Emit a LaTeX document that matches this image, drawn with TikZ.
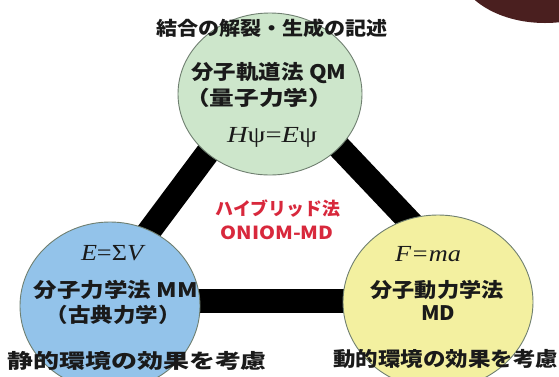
\documentclass[tikz,border=0pt]{standalone}
\usepackage{fontspec}
\usepackage{graphicx}
\usetikzlibrary{shapes.geometric}
\newfontfamily\jp{Noto Sans CJK JP}
\newfontfamily\tms{Liberation Serif}
\newcommand\fitw[2]{\resizebox{#1}{\height}{#2}}
\definecolor{qmfill}{HTML}{CDE6CB}
\definecolor{mmfill}{HTML}{93C3EA}
\definecolor{mdfill}{HTML}{F3F0A0}
\definecolor{blobline}{HTML}{6F7F70}
\definecolor{inkc}{HTML}{1A1A1A}
\definecolor{redc}{HTML}{D8283C}
\definecolor{maroonc}{HTML}{4A1F1F}
\begin{document}
\begin{tikzpicture}[x=1pt,y=-1pt,
  blob/.style={ellipse, draw=blobline, line width=0.9pt, inner sep=0pt},
  bar/.style={line width=24pt, black},
  jt/.style={inner sep=0pt, text=inkc, font={\jp\bfseries\fontsize{#1}{#1}\selectfont}},
  rt/.style={inner sep=0pt, text=redc, font={\jp\bfseries\fontsize{#1}{#1}\selectfont}},
  mt/.style={inner sep=0pt, text=inkc, font={\tms\fontsize{#1}{#1}\selectfont}}]
\useasboundingbox (0,0) rectangle (559,376);
\clip (0,0) rectangle (559,376);
\node[ellipse, fill=maroonc, minimum width=176pt, minimum height=116pt, inner sep=0pt] (blot) at (545,-35) {};
% triangle vertices
\coordinate (qmv) at (268,72);
\coordinate (mmv) at (97,301);
\coordinate (mdv) at (485,301);
\draw[bar] (qmv) -- (mmv);
\draw[bar] (mmv) -- (mdv);
\draw[bar] (qmv) -- (mdv);
% circles
\node[blob, fill=qmfill, minimum width=184pt, minimum height=162pt] (qm) at (270,94) {};
\node[blob, fill=mmfill, minimum width=180pt, minimum height=168pt] (mm) at (110,306) {};
\node[blob, fill=mdfill, minimum width=190pt, minimum height=174pt] (md) at (438,302) {};
% texts
\node[jt=19] (t1) at (272,28) {\fitw{232pt}{結合の解裂・生成の記述}};
\node[jt=20] (t2) at (269,73) {\fitw{155pt}{分子軌道法 QM}};
\node[jt=20] (t3) at (259,98) {\fitw{148pt}{（量子力学）}};
\node[mt=23] (t4) at (272,137) {\fitw{90pt}{{\itshape H}ψ={\itshape E}ψ}};
\node[mt=23] (t5) at (112,253) {\fitw{62pt}{{\itshape E}=Σ{\itshape V}}};
\node[jt=20] (t6) at (116,290) {\fitw{164pt}{分子力学法 MM}};
\node[jt=20] (t7) at (113,315) {\fitw{135pt}{（古典力学）}};
\node[jt=20] (t8) at (137,361) {\fitw{260pt}{静的環境の効果を考慮}};
\node[mt=23] (t9) at (428,254) {\fitw{66pt}{\itshape F=ma}};
\node[jt=20] (t10) at (437,290) {\fitw{133pt}{分子動力学法}};
\node[jt=20] (t11) at (438,313) {\fitw{34pt}{MD}};
\node[jt=20] (t12) at (445.5,359) {\fitw{225pt}{動的環境の効果を考慮}};
\node[rt=18] (t13) at (278,209) {\fitw{125pt}{ハイブリッド法}};
\node[rt=18] (t14) at (277,233) {\fitw{113pt}{ONIOM-MD}};
\end{tikzpicture}
\end{document}
